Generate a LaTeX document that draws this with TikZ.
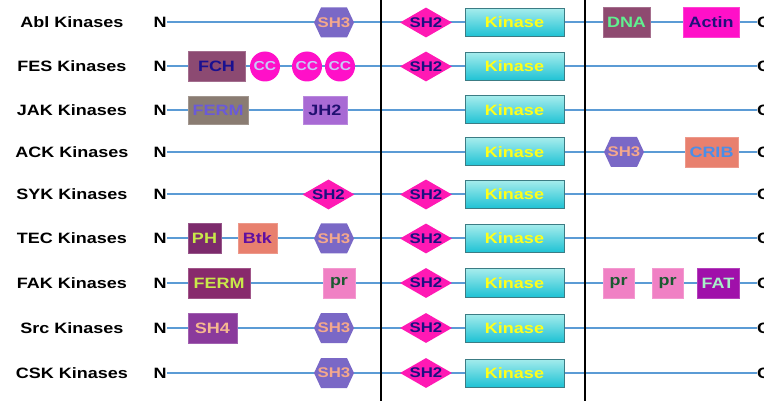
\documentclass[tikz,border=0pt]{standalone}
\usepackage{fontspec}
\setmainfont[FakeStretch=1.2]{Liberation Sans}
\usetikzlibrary{shapes.geometric,shapes.symbols}

% domain colours
\definecolor{lineblue}{HTML}{5B9BD5}
\definecolor{shthreec}{HTML}{7A68C6}
\definecolor{shthreet}{HTML}{F5A88C}
\definecolor{shtwoc}{HTML}{FF19B4}
\definecolor{shtwot}{HTML}{1A1080}
\definecolor{kintop}{HTML}{A4ECEC}
\definecolor{kinbot}{HTML}{1EC2D4}
\definecolor{kinedge}{HTML}{3C7C84}
\definecolor{kint}{HTML}{FFFF1A}
\definecolor{dnac}{HTML}{8E4A70}
\definecolor{dnat}{HTML}{60F090}
\definecolor{actinc}{HTML}{FF10C8}
\definecolor{actint}{HTML}{20107A}
\definecolor{fchc}{HTML}{8C4A72}
\definecolor{fcht}{HTML}{1A1090}
\definecolor{ccc}{HTML}{FF10C8}
\definecolor{cct}{HTML}{C8C8F8}
\definecolor{fermjc}{HTML}{8A7C72}
\definecolor{fermjt}{HTML}{6A5AD8}
\definecolor{jhc}{HTML}{A86AD4}
\definecolor{jht}{HTML}{201070}
\definecolor{cribc}{HTML}{E8806E}
\definecolor{cribt}{HTML}{4A8EE8}
\definecolor{phc}{HTML}{7C2A6C}
\definecolor{pht}{HTML}{C8E84A}
\definecolor{btkc}{HTML}{E8806E}
\definecolor{btkt}{HTML}{6010A0}
\definecolor{fermfc}{HTML}{882A6C}
\definecolor{prc}{HTML}{F080C4}
\definecolor{prt}{HTML}{1A5A30}
\definecolor{fatc}{HTML}{A010AA}
\definecolor{fatt}{HTML}{A8F0C8}
\definecolor{shfourc}{HTML}{8A3A9C}
\definecolor{shfourt}{HTML}{F5B890}

\tikzset{
  dtext/.style={font=\bfseries\fontsize{15pt}{18pt}\selectfont},
  stext/.style={font=\bfseries\fontsize{14pt}{17pt}\selectfont},
  famname/.style={dtext, text=black},
  endlabel/.style={dtext, text=black, inner sep=0pt},
  backbone/.style={draw=lineblue, line width=2pt},
  divider/.style={draw=black, line width=2.6pt},
  dom/.style={rectangle, dtext, inner sep=0pt, minimum height=30pt, draw=#1!80!white, line width=0.8pt, fill=#1},
  kinase/.style={rectangle, dtext, inner sep=0pt, minimum width=99pt, minimum height=28pt,
    top color=kintop, bottom color=kinbot, draw=kinedge, line width=1pt, text=kint},
  shtwo/.style={diamond, inner sep=0pt, minimum width=52pt, minimum height=30pt, fill=shtwoc,
    label={[stext, text=shtwot]center:SH2}},
  shthree/.style={signal, signal to=east and west, signal pointer angle=130, inner sep=0pt,
    minimum width=40pt, minimum height=30pt, fill=shthreec,
    label={[stext, text=shthreet]center:SH3}},
  ccdom/.style={circle, inner sep=0pt, minimum size=30pt, fill=ccc, text=cct,
    font=\bfseries\fontsize{13pt}{15pt}\selectfont},
}

\begin{document}
\begin{tikzpicture}[x=1pt,y=-1pt]
\useasboundingbox (0,0) rectangle (764,401);

% family names, N and C termini
\foreach \nm/\lab/\yy in {abl/Abl Kinases/22.5, fes/FES Kinases/66.5, jak/JAK Kinases/110,
    ack/ACK Kinases/152, syk/SYK Kinases/194.5, tec/TEC Kinases/238.5,
    fak/FAK Kinases/283, src/Src Kinases/328, csk/CSK Kinases/373}{
  \node[famname] (\nm-name) at (72,\yy) {\lab};
  \node[endlabel, anchor=west] (\nm-n) at (153.5,\yy) {N};
  \node[endlabel, anchor=west] (\nm-c) at (757,\yy) {C};
  \draw[backbone] (\nm-n.east) -- (\nm-c.west);
}

% Abl
\node[shthree] (abl-sh3) at (334,22.5) {};
\node[shtwo] (abl-sh2) at (426,22.5) {};
\node[kinase] (abl-kin) at (514.5,22.5) {Kinase};
\node[dom=dnac, text=dnat, minimum width=47pt] (abl-dna) at (626.5,22.5) {DNA};
\node[dom=actinc, text=actint, minimum width=56pt] (abl-actin) at (711,22.5) {Actin};

% FES
\node[dom=fchc, text=fcht, minimum width=57pt] (fes-fch) at (216.5,66.5) {FCH};
\node[ccdom] (fes-cc1) at (265,66.5) {CC};
\node[ccdom] (fes-cc2) at (307,66.5) {CC};
\node[ccdom] (fes-cc3) at (340,66.5) {CC};
\node[shtwo] (fes-sh2) at (426,66.5) {};
\node[kinase] (fes-kin) at (514.5,66.5) {Kinase};

% JAK
\node[dom=fermjc, text=fermjt, minimum width=60pt, minimum height=28pt] (jak-ferm) at (218,110) {FERM};
\node[dom=jhc, text=jht, minimum width=44pt, minimum height=28pt] (jak-jh2) at (325,110) {JH2};
\node[kinase] (jak-kin) at (514.5,110) {Kinase};

% ACK
\node[kinase] (ack-kin) at (514.5,152) {Kinase};
\node[shthree] (ack-sh3) at (624,152) {};
\node[dom=cribc, text=cribt, minimum width=53pt] (ack-crib) at (711.5,152) {CRIB};

% SYK
\node[shtwo] (syk-sh2a) at (328.5,194.5) {};
\node[shtwo] (syk-sh2b) at (426,194.5) {};
\node[kinase] (syk-kin) at (514.5,194.5) {Kinase};

% TEC
\node[dom=phc, text=pht, minimum width=33pt] (tec-ph) at (204.5,238.5) {PH};
\node[dom=btkc, text=btkt, minimum width=39pt] (tec-btk) at (257.5,238.5) {Btk};
\node[shthree] (tec-sh3) at (334,238.5) {};
\node[shtwo] (tec-sh2) at (426,238.5) {};
\node[kinase] (tec-kin) at (514.5,238.5) {Kinase};

% FAK
\node[dom=fermfc, text=pht, minimum width=62pt] (fak-ferm) at (219,283) {FERM};
\node[dom=prc, text=prt, minimum width=32pt] (fak-pr1) at (339,283) {pr};
\node[shtwo] (fak-sh2) at (426,283) {};
\node[kinase] (fak-kin) at (514.5,283) {Kinase};
\node[dom=prc, text=prt, minimum width=31pt] (fak-pr2) at (618.5,283) {pr};
\node[dom=prc, text=prt, minimum width=31pt] (fak-pr3) at (667.5,283) {pr};
\node[dom=fatc, text=fatt, minimum width=42pt] (fak-fat) at (718,283) {FAT};

% Src
\node[dom=shfourc, text=shfourt, minimum width=49pt] (src-sh4) at (212.5,328) {SH4};
\node[shthree] (src-sh3) at (334,328) {};
\node[shtwo] (src-sh2) at (426,328) {};
\node[kinase] (src-kin) at (514.5,328) {Kinase};

% CSK
\node[shthree] (csk-sh3) at (334,373) {};
\node[shtwo] (csk-sh2) at (426,373) {};
\node[kinase] (csk-kin) at (514.5,373) {Kinase};

% vertical dividers
\coordinate (d1t) at (381,0);
\coordinate (d1b) at (381,401);
\coordinate (d2t) at (585,0);
\coordinate (d2b) at (585,401);
\draw[divider] (d1t) -- (d1b);
\draw[divider] (d2t) -- (d2b);
\end{tikzpicture}
\end{document}
